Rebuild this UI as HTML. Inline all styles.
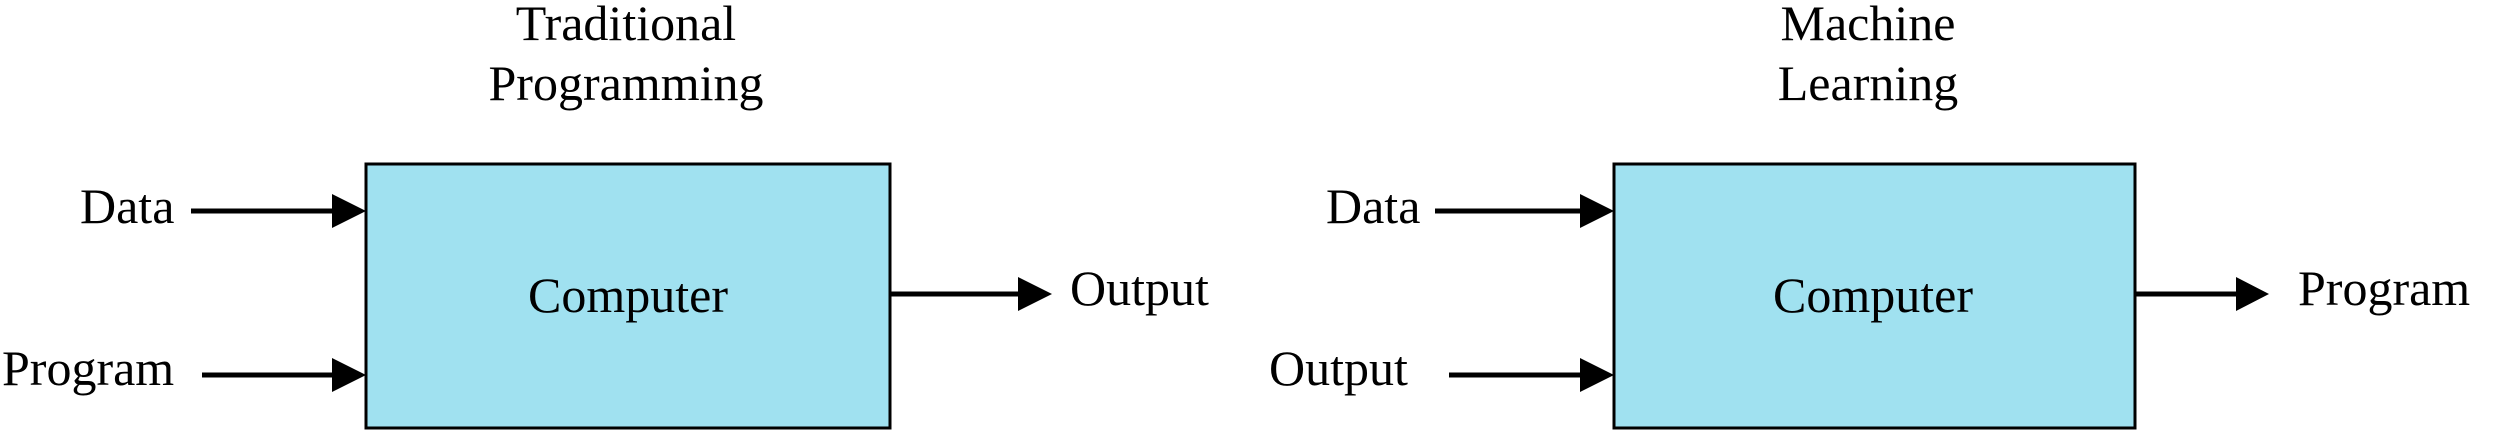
<!DOCTYPE html>
<html><head><meta charset="utf-8"><style>
html,body{margin:0;padding:0;background:#fff;}
svg{display:block;}
text{font-family:"Liberation Serif",serif;font-size:50px;fill:#000;}
</style></head><body>
<svg width="2500" height="438" viewBox="0 0 2500 438" xmlns="http://www.w3.org/2000/svg">
<!-- Left diagram -->
<text x="626" y="40" text-anchor="middle">Traditional</text>
<text x="626" y="100" text-anchor="middle">Programming</text>
<rect x="366" y="164" width="524" height="264" fill="#a0e1f0" stroke="#000" stroke-width="3"/>
<text x="628" y="312" text-anchor="middle">Computer</text>
<text x="80" y="223">Data</text>
<line x1="191" y1="211" x2="336" y2="211" stroke="#000" stroke-width="5"/>
<polygon points="332,194 366,211 332,228" fill="#000"/>
<text x="2" y="385">Program</text>
<line x1="202" y1="375" x2="336" y2="375" stroke="#000" stroke-width="5"/>
<polygon points="332,358 366,375 332,392" fill="#000"/>
<line x1="890" y1="294" x2="1022" y2="294" stroke="#000" stroke-width="5"/>
<polygon points="1018,277 1052,294 1018,311" fill="#000"/>
<text x="1070" y="305">Output</text>
<!-- Right diagram -->
<text x="1868" y="40" text-anchor="middle">Machine</text>
<text x="1868" y="100" text-anchor="middle">Learning</text>
<rect x="1614" y="164" width="521" height="264" fill="#a0e1f0" stroke="#000" stroke-width="3"/>
<text x="1873" y="312" text-anchor="middle">Computer</text>
<text x="1326" y="223">Data</text>
<line x1="1435" y1="211" x2="1584" y2="211" stroke="#000" stroke-width="5"/>
<polygon points="1580,194 1614,211 1580,228" fill="#000"/>
<text x="1269" y="385">Output</text>
<line x1="1449" y1="375" x2="1584" y2="375" stroke="#000" stroke-width="5"/>
<polygon points="1580,358 1614,375 1580,392" fill="#000"/>
<line x1="2135" y1="294" x2="2240" y2="294" stroke="#000" stroke-width="5"/>
<polygon points="2236,277 2269,294 2236,311" fill="#000"/>
<text x="2298" y="305">Program</text>
</svg>
</body></html>
